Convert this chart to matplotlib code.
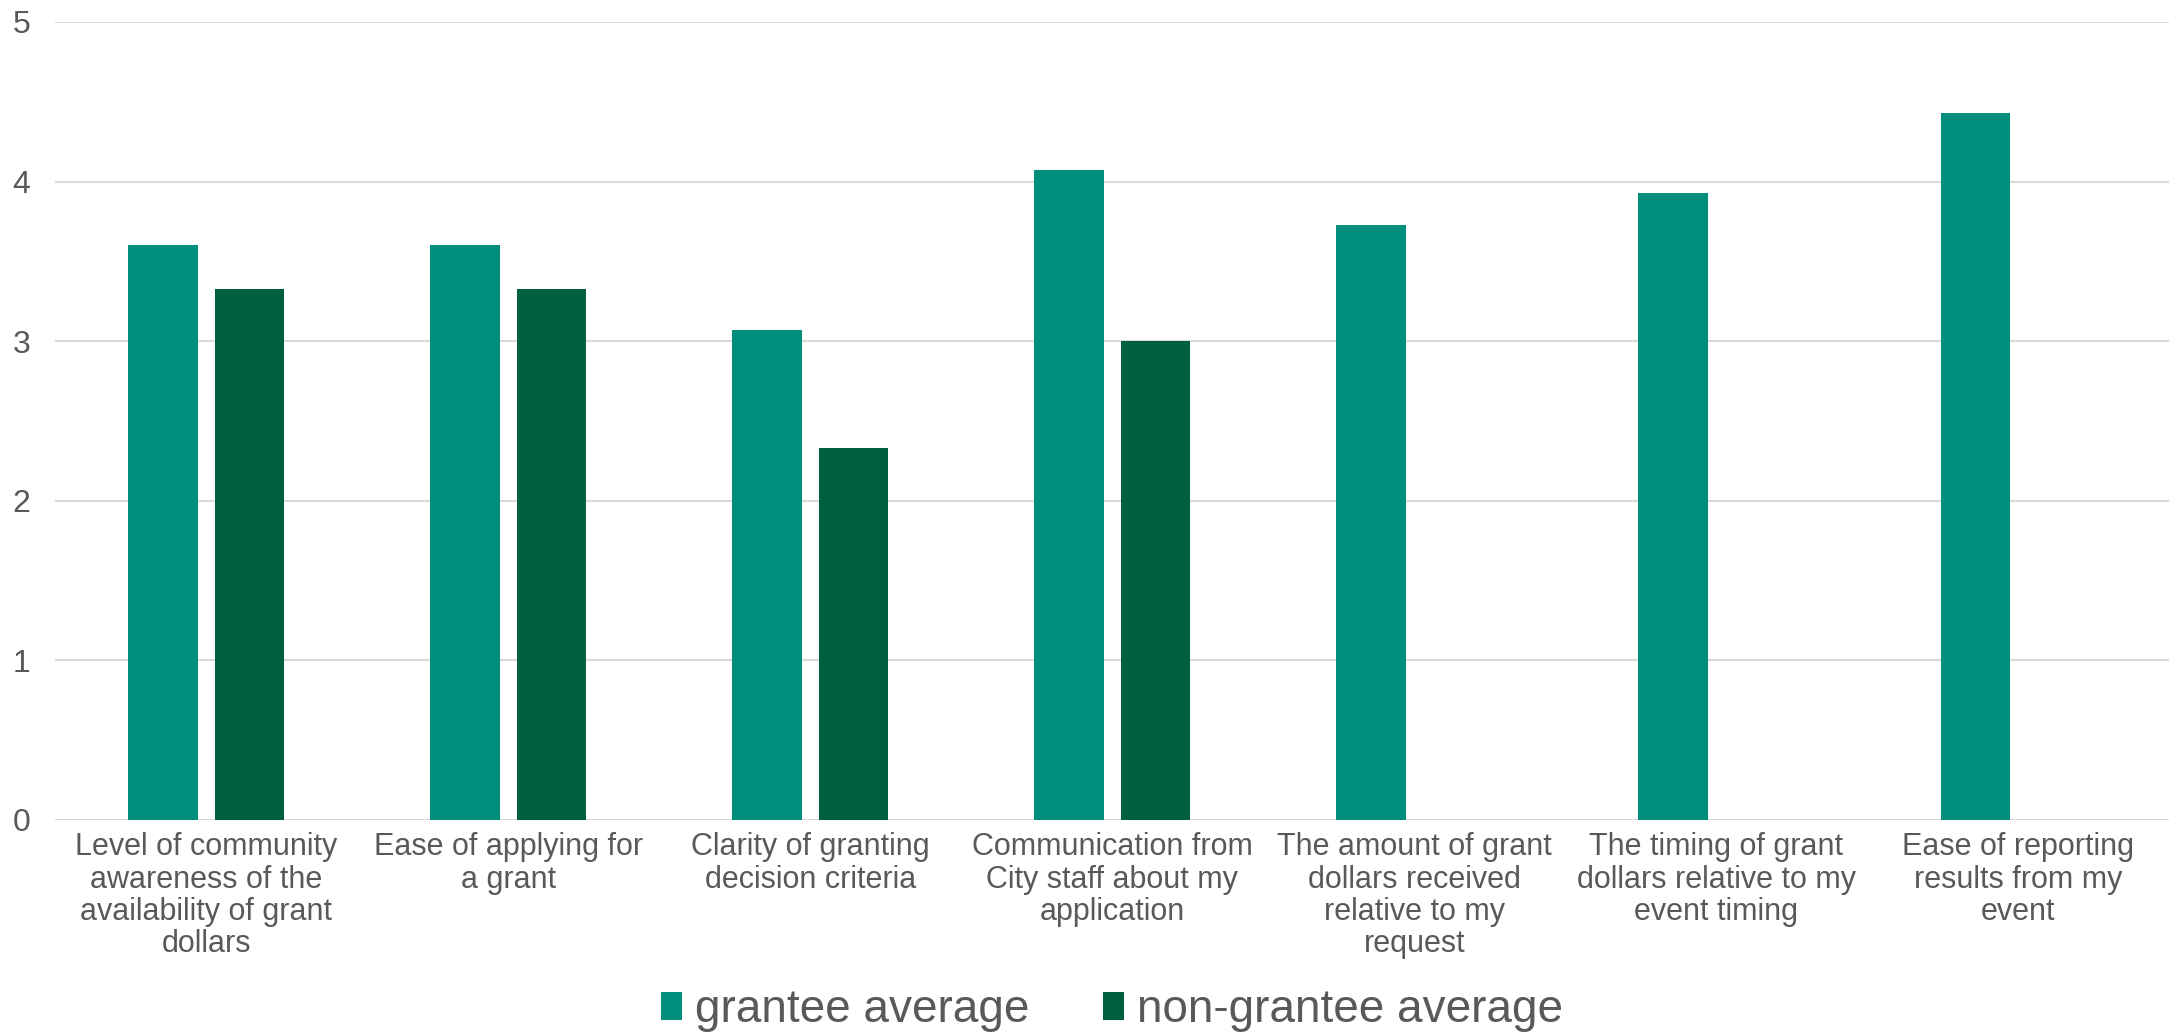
import matplotlib
matplotlib.use("Agg")
import matplotlib.pyplot as plt
from matplotlib import font_manager
import numpy as np

categories = [
    "Level of community\nawareness of the\navailability of grant\ndollars",
    "Ease of applying for\na grant",
    "Clarity of granting\ndecision criteria",
    "Communication from\nCity staff about my\napplication",
    "The amount of grant\ndollars received\nrelative to my\nrequest",
    "The timing of grant\ndollars relative to my\nevent timing",
    "Ease of reporting\nresults from my\nevent",
]
grantee = [3.60, 3.60, 3.07, 4.07, 3.73, 3.93, 4.43]
non_grantee = [3.33, 3.33, 2.33, 3.00, 0, 0, 0]

names = {f.name for f in font_manager.fontManager.ttflist}
font = "Liberation Sans Narrow" if "Liberation Sans Narrow" in names else "Liberation Sans"
plt.rcParams['font.family'] = [font, 'DejaVu Sans']

fig = plt.figure(figsize=(21.76, 10.36), dpi=100)
ax = fig.add_axes([0.0253, 0.2085, 0.9717, 0.7703])

x = np.arange(len(categories))
width = 0.23
ax.bar(x - 0.143, grantee, width, color='#008F7D', label='grantee average', zorder=3)
ax.bar(x + 0.143, non_grantee, width, color='#005E41', label='non-grantee average', zorder=3)

ax.set_xlim(-0.5, len(categories) - 0.5)
ax.set_ylim(0, 5)
ax.set_yticks(range(6))
ax.grid(axis='y', color='#D9D9D9', linewidth=1.5, zorder=0)
for s in ax.spines.values():
    s.set_visible(False)
ax.tick_params(axis='both', length=0, colors='#595959')
ax.tick_params(axis='y', pad=18, labelsize=23)
ax.tick_params(axis='x', pad=9)
ax.set_xticks(x)
ax.set_xticklabels(categories, fontsize=22, color='#595959', linespacing=1.1)

leg = ax.legend(loc='center', bbox_to_anchor=(0.5, (1 - 1010 / 1036 - 0.2085) / 0.7703),
                ncol=2, frameon=False, fontsize=33, labelcolor='#595959',
                handlelength=0.45, handleheight=0.55, handletextpad=0.3, columnspacing=1.6)

plt.savefig('out.png', dpi=100)
